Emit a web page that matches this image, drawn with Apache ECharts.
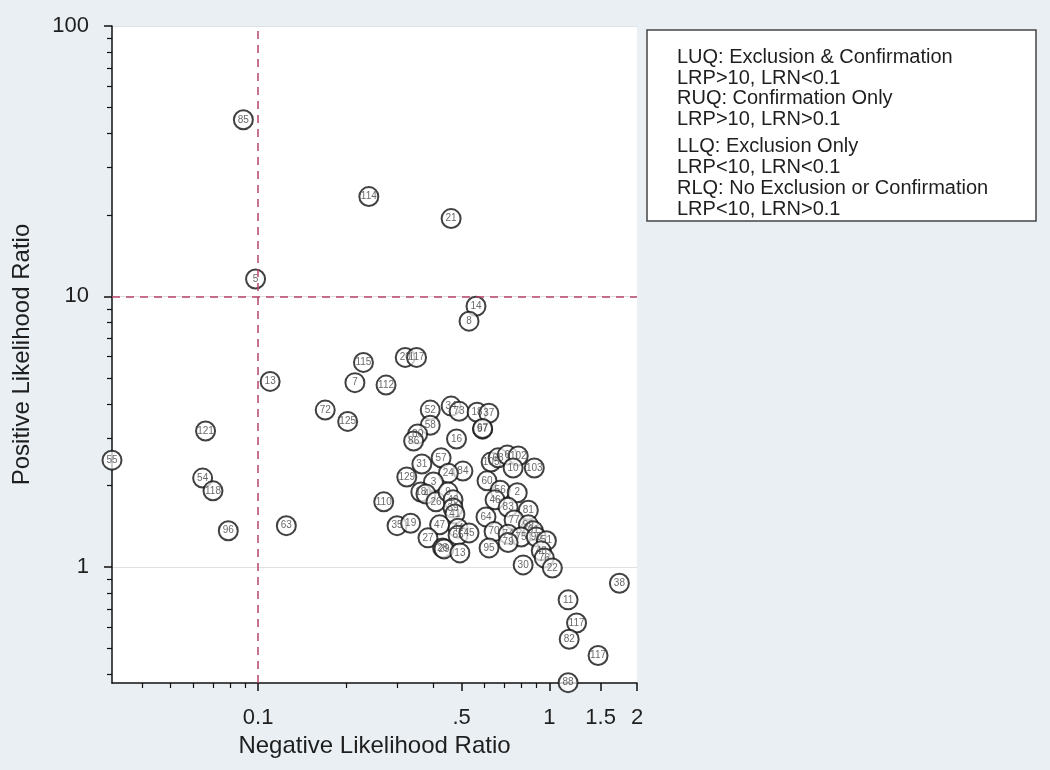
<!DOCTYPE html>
<html>
<head>
<meta charset="utf-8">
<script src="https://cdn.jsdelivr.net/npm/echarts@6/dist/echarts.min.js"></script>
<style>html,body{margin:0;padding:0;background:#e9eff3;}#c{width:1050px;height:770px;}</style>
</head>
<body>
<div id="c"></div>
<script>
// Study labels, negative LR (x) and positive LR (y)
const ids = ['85','5','114','21','14','8','13','115','20','117','7','112','72','125','121','55','54','118','96','63',
  '38','11','117','82','117','88',
  '52','34','73','18','37','97','67','58','80','86','16','57','31','84','24','129','3',
  '18','4','26','9','40','39','41','110','35','19','47','27','44','65','45','28','29','13',
  '105','68','6','102','10','103','60','56','2','46','83','81','64','77','99','91','70','74','75','90','51','95','79','30','48','76','22'];
const lrn = [0.089,0.098,0.24,0.46,0.56,0.53,0.11,0.23,0.32,0.35,0.215,0.275,0.17,0.203,0.066,0.0315,0.0645,0.070,0.079,0.125,
  1.74,1.16,1.24,1.17,1.47,1.16,
  0.39,0.46,0.49,0.565,0.62,0.59,0.59,0.39,0.353,0.342,0.48,0.425,0.365,0.505,0.45,0.324,0.40,
  0.362,0.377,0.408,0.449,0.467,0.467,0.474,0.27,0.30,0.334,0.42,0.383,0.486,0.486,0.53,0.43,0.435,0.493,
  0.631,0.667,0.717,0.782,0.751,0.888,0.611,0.678,0.776,0.651,0.722,0.847,0.606,0.757,0.847,0.881,0.646,0.722,0.80,0.902,0.977,0.621,0.722,0.813,0.938,0.961,1.024];
const lrp = [45,11.6,23.4,19.4,9.2,8.1,4.85,5.7,5.95,5.95,4.8,4.7,3.8,3.45,3.18,2.48,2.13,1.91,1.36,1.42,
  0.87,0.755,0.62,0.54,0.47,0.373,
  3.8,3.93,3.76,3.73,3.7,3.23,3.25,3.34,3.1,2.92,2.97,2.53,2.4,2.26,2.22,2.15,2.06,
  1.89,1.86,1.74,1.89,1.77,1.65,1.57,1.74,1.42,1.45,1.43,1.28,1.39,1.31,1.335,1.175,1.165,1.126,
  2.44,2.53,2.59,2.57,2.32,2.32,2.08,1.92,1.88,1.77,1.66,1.62,1.53,1.49,1.43,1.36,1.35,1.32,1.29,1.29,1.25,1.175,1.23,1.017,1.146,1.079,0.99];

const xMajorTicks = [0.1, 0.5, 1, 1.5, 2];
const xMajorLabels = ['0.1', '.5', '1', '1.5', '2'];
const xMinorTicks = [0.04,0.05,0.06,0.07,0.08,0.09,0.2,0.3,0.4,0.6,0.7,0.8,0.9];
const yMajorTicks = [1, 10, 100];
const yMajorLabels = ['1', '10', '100'];
const yMinorTicks = [0.4,0.5,0.6,0.7,0.8,0.9,2,3,4,5,6,7,8,9,20,30,40,50,60,70,80,90];
const cutX = 0.1;
const cutY = 10;
const legendLines = ['LUQ: Exclusion & Confirmation','LRP>10, LRN<0.1','RUQ: Confirmation Only','LRP>10, LRN>0.1',
  'LLQ: Exclusion Only','LRP<10, LRN<0.1','RLQ: No Exclusion or Confirmation','LRP<10, LRN>0.1'];

const FONT = '"Liberation Sans", Arial, Helvetica, sans-serif';
function nearestLabel(v, ticks, labels) {
  let best = 0, bd = Infinity;
  ticks.forEach((t, i) => { const d = Math.abs(Math.log(v) - Math.log(t)); if (d < bd) { bd = d; best = i; } });
  return labels[best];
}
const XMIN = 0.0315, XMAX = 2, YMIN = 0.372, YMAX = 100;

const chart = echarts.init(document.getElementById('c'), null, {renderer: 'canvas'});
const legendY = [57, 78, 98, 119, 146, 167, 188, 209];
const option = {
  backgroundColor: '#e9eff3',
  animation: false,
  grid: {left: 112, right: 413, top: 26, bottom: 87, show: true, backgroundColor: '#ffffff', borderWidth: 0},
  xAxis: [
    {type: 'log', position: 'bottom', min: XMIN, max: XMAX,
     name: 'Negative Likelihood Ratio', nameLocation: 'middle', nameGap: 50,
     nameTextStyle: {fontFamily: FONT, fontSize: 24, color: '#1e1e1e'},
     axisLine: {onZero: false, lineStyle: {color: '#111', width: 1.5}},
     axisTick: {customValues: xMajorTicks, length: 8, lineStyle: {color: '#111', width: 1.5}},
     axisLabel: {customValues: xMajorTicks, margin: 24, fontFamily: FONT, fontSize: 22, color: '#1e1e1e',
       formatter: v => nearestLabel(v, xMajorTicks, xMajorLabels)},
     splitLine: {show: false}},
    {type: 'log', position: 'bottom', min: XMIN, max: XMAX,
     axisLine: {show: false, onZero: false},
     axisTick: {customValues: xMinorTicks, length: 5, lineStyle: {color: '#111', width: 1.2}},
     axisLabel: {show: false}, splitLine: {show: false}}
  ],
  yAxis: [
    {type: 'log', position: 'left', min: YMIN, max: YMAX,
     name: 'Positive Likelihood Ratio', nameLocation: 'middle', nameGap: 78, nameRotate: 90,
     nameTextStyle: {fontFamily: FONT, fontSize: 24, color: '#1e1e1e'},
     axisLine: {onZero: false, lineStyle: {color: '#111', width: 1.5}},
     axisTick: {customValues: yMajorTicks, length: 8, lineStyle: {color: '#111', width: 1.5}},
     axisLabel: {customValues: yMajorTicks, margin: 23, fontFamily: FONT, fontSize: 22, color: '#1e1e1e',
       formatter: v => nearestLabel(v, yMajorTicks, yMajorLabels)},
     splitLine: {show: true, lineStyle: {color: '#dde1e4', width: 1}}},
    {type: 'log', position: 'left', min: YMIN, max: YMAX,
     axisLine: {show: false, onZero: false},
     axisTick: {customValues: yMinorTicks, length: 5, lineStyle: {color: '#111', width: 1.2}},
     axisLabel: {show: false}, splitLine: {show: false}}
  ],
  series: [{
    type: 'scatter',
    xAxisIndex: 0, yAxisIndex: 0,
    symbol: 'circle', symbolSize: 19,
    itemStyle: {color: 'rgba(255,255,255,0.9)', borderColor: '#111', borderWidth: 2},
    label: {show: true, position: 'inside', formatter: '{b}', fontFamily: FONT, fontSize: 10, color: '#444'},
    emphasis: {disabled: true},
    data: ids.map((id, i) => ({name: id, value: [lrn[i], lrp[i]]})),
    markLine: {
      silent: true, symbol: 'none', label: {show: false},
      lineStyle: {color: '#b8446a', type: [8, 6], width: 1.5},
      data: [{xAxis: cutX}, {yAxis: cutY}]
    },
    z: 3
  }],
  graphic: [
    {type: 'rect', shape: {x: 647, y: 30, width: 389, height: 191},
     style: {fill: '#ffffff', stroke: '#444', lineWidth: 1.5}}
  ].concat(legendLines.map((t, i) => ({
    type: 'text', x: 677, y: legendY[i],
    style: {text: t, font: '20px ' + FONT, fill: '#1e1e1e', verticalAlign: 'middle'}
  })))
};
chart.setOption(option);
</script>
</body>
</html>
